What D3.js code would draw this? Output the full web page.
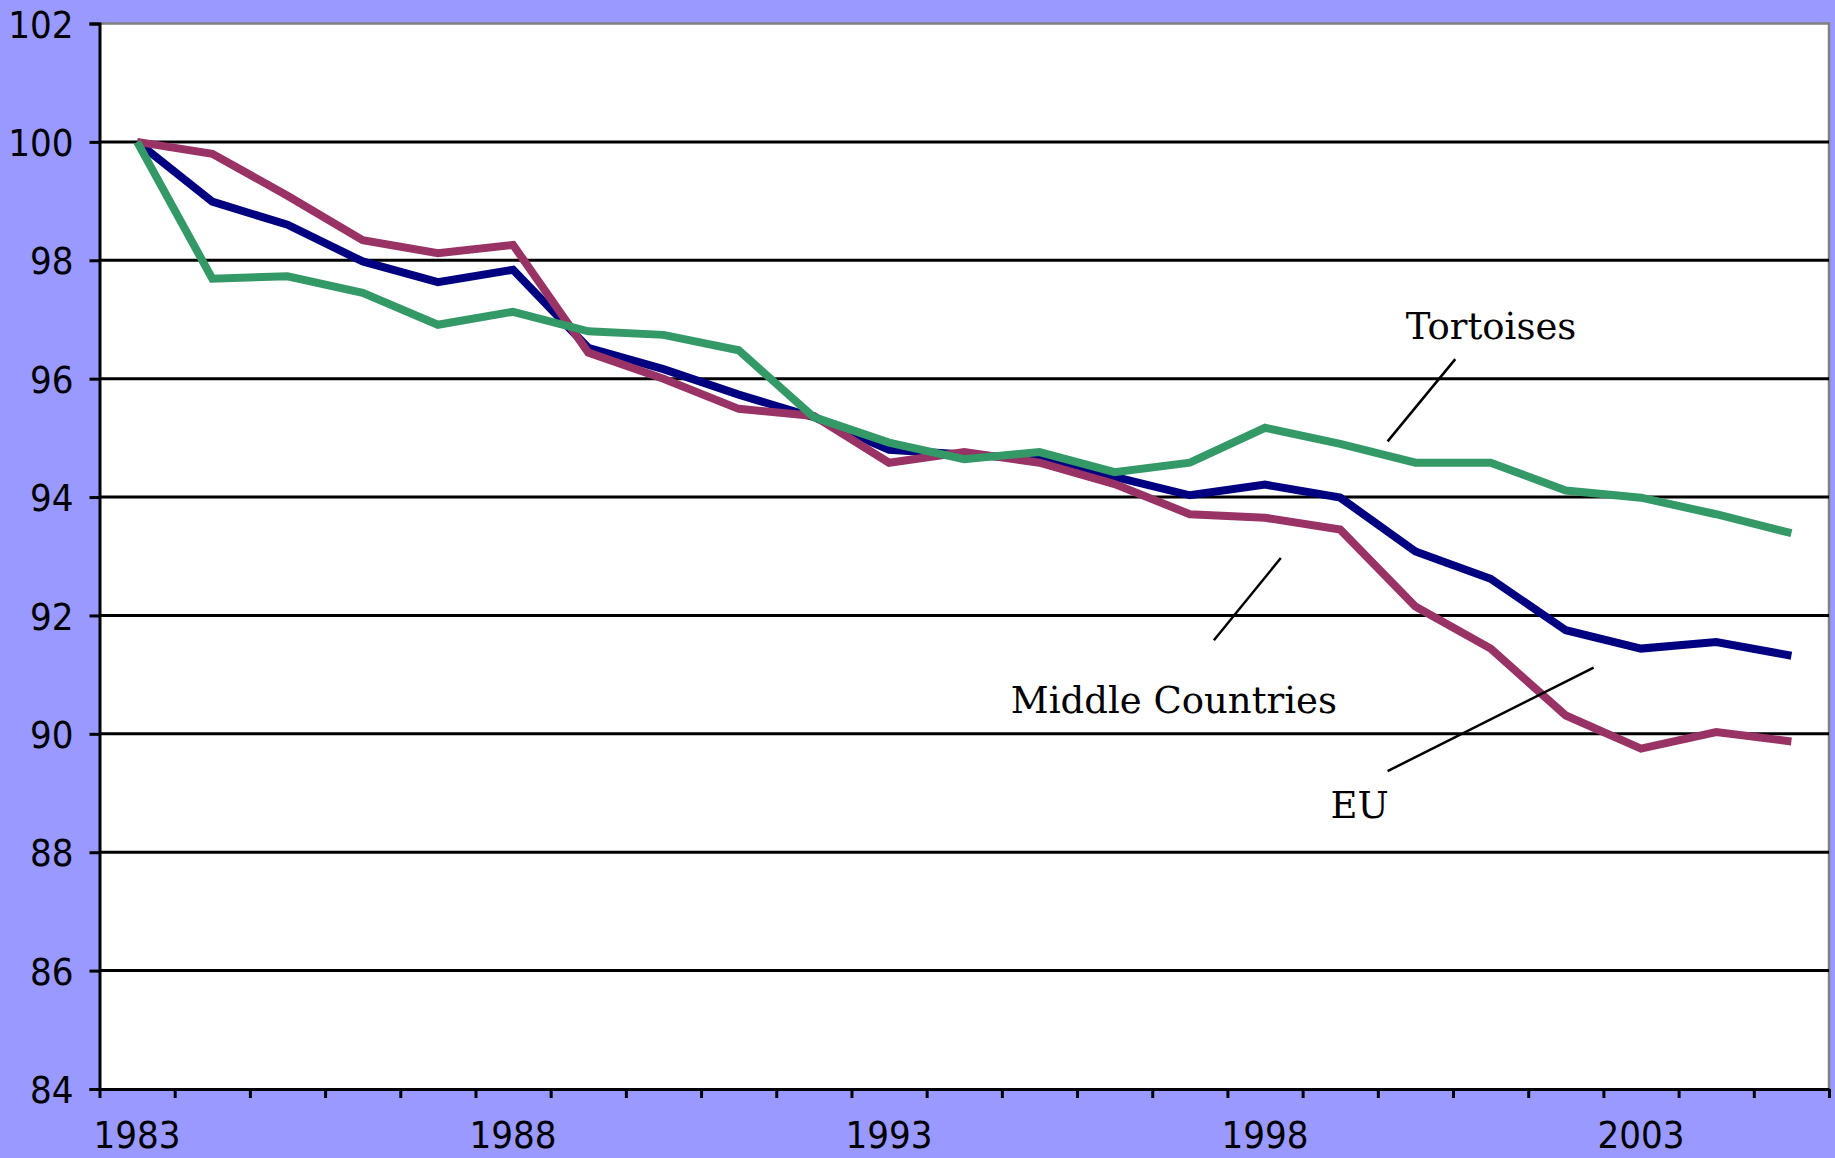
<!DOCTYPE html>
<html>
<head>
<meta charset="utf-8">
<script src="https://cdn.jsdelivr.net/npm/d3@7"></script>
<style>
  html, body { margin: 0; padding: 0; background: #9999ff; }
  svg { display: block; }
  .tick-label { font-family: "DejaVu Sans Condensed", "DejaVu Sans", sans-serif; font-stretch: condensed; font-size: 38px; fill: #000; }
  .note { font-family: "DejaVu Serif", "Liberation Serif", serif; font-size: 37px; fill: #000; }
</style>
</head>
<body>
<div id="chart"></div>
<script>
// years on the category axis
const years = d3.range(1983, 2006);
const yearLabels = [1983, 1988, 1993, 1998, 2003];
const yTicks = [84, 86, 88, 90, 92, 94, 96, 98, 100, 102];

// index values, 1983 = 100
const middleCountries = [100, 98.99, 98.60, 97.98, 97.63, 97.84, 96.52, 96.16, 95.73, 95.35,
  94.80, 94.72, 94.64, 94.34, 94.03, 94.21, 93.99, 93.08, 92.62, 91.75, 91.44, 91.55, 91.32];
const eu = [100, 99.80, 99.09, 98.34, 98.12, 98.26, 96.44, 96.00, 95.49, 95.37,
  94.58, 94.76, 94.58, 94.22, 93.71, 93.65, 93.45, 92.15, 91.44, 90.31, 89.75, 90.03, 89.87];
const tortoises = [100, 97.69, 97.73, 97.45, 96.91, 97.13, 96.80, 96.74, 96.48, 95.35,
  94.92, 94.64, 94.76, 94.42, 94.58, 95.17, 94.90, 94.58, 94.58, 94.11, 93.99, 93.71, 93.39];

// labels with their leader lines (in year / value units)
const notes = [
  { text: 'Tortoises', tx: 1999.87, ty: 96.67, line: [[2000.53, 96.33], [1999.63, 94.94]] },
  { text: 'Middle Countries', tx: 1994.62, ty: 90.36, line: [[1998.21, 92.97], [1997.32, 91.58]] },
  { text: 'EU', tx: 1998.87, ty: 88.57, line: [[2002.37, 91.12], [1999.63, 89.37]] }
];

const width = 1835, height = 1158;
const plot = { left: 99.5, right: 1829, top: 23.5, bottom: 1089 };

const svg = d3.select('#chart').append('svg')
  .attr('width', width)
  .attr('height', height);

svg.append('rect')
  .attr('width', width).attr('height', height)
  .attr('fill', '#9999ff');

const x = d3.scaleLinear()
  .domain([years[0] - 0.5, years[years.length - 1] + 0.5])
  .range([plot.left, plot.right]);

const y = d3.scaleLinear()
  .domain([84, 102])
  .range([plot.bottom, plot.top]);

// plot area
svg.append('rect')
  .attr('x', plot.left).attr('y', plot.top)
  .attr('width', plot.right - plot.left)
  .attr('height', plot.bottom - plot.top)
  .attr('fill', '#fff');

svg.append('path')
  .attr('d', `M${plot.left},${plot.top}H${plot.right}V${plot.bottom}`)
  .attr('fill', 'none')
  .attr('stroke', '#808080')
  .attr('stroke-width', 2.5);

// gridlines
svg.append('g')
  .selectAll('line')
  .data(yTicks.filter(d => d > 84 && d < 102))
  .enter().append('line')
  .attr('x1', plot.left).attr('x2', plot.right)
  .attr('y1', d => y(d)).attr('y2', d => y(d))
  .attr('stroke', '#000')
  .attr('stroke-width', 3);

// y axis
const yAxis = svg.append('g')
  .attr('transform', `translate(${plot.left},0)`)
  .call(d3.axisLeft(y).tickValues(yTicks).tickSize(10).tickPadding(16).tickFormat(d3.format('d')));
yAxis.select('.domain').attr('stroke', '#000').attr('stroke-width', 3);
yAxis.selectAll('.tick line').attr('stroke', '#000').attr('stroke-width', 3);
yAxis.selectAll('.tick text').attr('class', 'tick-label').attr('dy', '0.36em');
yAxis.attr('font-size', null).attr('font-family', null);

// x axis: tick marks between categories, labels at category centres
const xEdges = d3.range(years[0] - 0.5, years[years.length - 1] + 1, 1);
const xAxis = svg.append('g')
  .attr('transform', `translate(0,${plot.bottom})`)
  .call(d3.axisBottom(x).tickValues(xEdges).tickSize(9).tickSizeOuter(0).tickFormat(''));
xAxis.select('.domain').attr('stroke', '#000').attr('stroke-width', 3);
xAxis.selectAll('.tick line').attr('stroke', '#000').attr('stroke-width', 3);

svg.append('g')
  .selectAll('text')
  .data(yearLabels)
  .enter().append('text')
  .attr('class', 'tick-label')
  .attr('x', d => x(d))
  .attr('y', 1148)
  .attr('text-anchor', 'middle')
  .text(d => d);

// series
const series = [
  { name: 'Middle Countries', values: middleCountries, color: '#000080' },
  { name: 'EU', values: eu, color: '#993366' },
  { name: 'Tortoises', values: tortoises, color: '#339966' }
];

const line = d3.line()
  .x((d, i) => x(years[i]))
  .y(d => y(d));

svg.append('g')
  .selectAll('path')
  .data(series)
  .enter().append('path')
  .attr('d', d => line(d.values))
  .attr('fill', 'none')
  .attr('stroke', d => d.color)
  .attr('stroke-width', 8)
  .attr('stroke-linejoin', 'miter');

// annotations
const noteG = svg.append('g');
noteG.selectAll('line')
  .data(notes)
  .enter().append('line')
  .attr('x1', d => x(d.line[0][0])).attr('y1', d => y(d.line[0][1]))
  .attr('x2', d => x(d.line[1][0])).attr('y2', d => y(d.line[1][1]))
  .attr('stroke', '#000')
  .attr('stroke-width', 2.5);

noteG.selectAll('text')
  .data(notes)
  .enter().append('text')
  .attr('class', 'note')
  .attr('x', d => x(d.tx))
  .attr('y', d => y(d.ty))
  .text(d => d.text);
</script>
</body>
</html>
